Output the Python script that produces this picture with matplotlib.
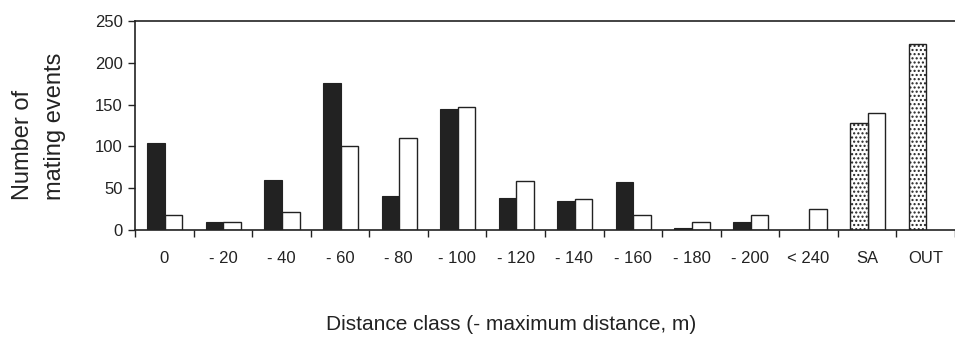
import numpy as np
import matplotlib.pyplot as plt
import matplotlib as mpl

plt.rcParams['font.family'] = ['Liberation Sans', 'DejaVu Sans']
mpl.rcParams['hatch.linewidth'] = 1.0

classes = ['0', '- 20', '- 40', '- 60', '- 80', '- 100', '- 120', '- 140',
           '- 160', '- 180', '- 200', '< 240', 'SA', 'OUT']
black_vals = [104, 10, 60, 176, 41, 145, 38, 35, 57, 3, 10, 0, 0, 0]
white_vals = [18, 10, 22, 101, 110, 147, 59, 37, 18, 9, 18, 25, 140, 0]
dotted_vals = [0, 0, 0, 0, 0, 0, 0, 0, 0, 0, 0, 0, 128, 223]

ink = '#222222'
x = np.arange(len(classes))
w = 0.3

fig = plt.figure(figsize=(9.55, 3.38), dpi=100)
ax = fig.add_axes([0.1414, 0.3195, 0.8586, 0.6184])

ax.bar(x - w / 2 + 0.01, black_vals, w, color=ink, edgecolor=ink, linewidth=0.8)
wv = np.array(white_vals)
ax.bar(x[wv > 0] + w / 2 + 0.01, wv[wv > 0], w, color='white', edgecolor=ink, linewidth=1.0)
dv = np.array(dotted_vals)
ax.bar(x[dv > 0] - w / 2 + 0.01, dv[dv > 0], w, color='white', edgecolor=ink,
       linewidth=1.0, hatch='....')

ax.set_xlim(-0.5, 13.33)
ax.set_ylim(0, 250)
ax.set_yticks([0, 50, 100, 150, 200, 250])
ax.set_xticks(x)
ax.set_xticklabels(classes)
ax.set_xticks(np.arange(-0.5, 14, 1), minor=True)
ax.tick_params(axis='x', which='major', length=0, pad=15, labelsize=12, colors=ink)
ax.tick_params(axis='x', which='minor', length=5, width=1, direction='out', color=ink)
ax.tick_params(axis='y', length=5, width=1, direction='out', labelsize=12, colors=ink, pad=4)

for s in ['left', 'bottom', 'top']:
    ax.spines[s].set_color(ink)
    ax.spines[s].set_linewidth(1.2)
ax.spines['right'].set_visible(False)

fig.text(0.024, 0.408, 'Number of', rotation=90, ha='center', va='bottom', fontsize=17, color=ink)
fig.text(0.058, 0.408, 'mating events', rotation=90, ha='center', va='bottom', fontsize=17, color=ink)
fig.text(0.535, 0.04, 'Distance class (- maximum distance, m)', ha='center', va='center',
         fontsize=15, color=ink)

fig.savefig('out.png', dpi=100)
